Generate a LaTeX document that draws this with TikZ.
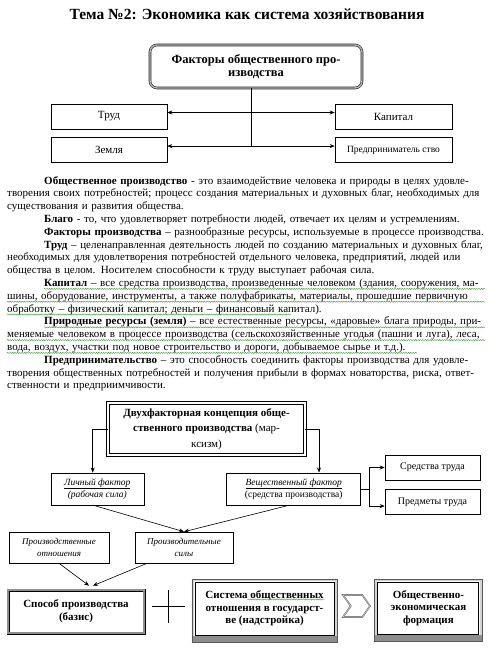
\documentclass[tikz,border=0pt]{standalone}
\usepackage{fontspec}
\setmainfont{Liberation Serif}
\usepackage{xcolor}
\usepackage{tikz}
\usetikzlibrary{arrows.meta,positioning,calc,shapes.symbols,decorations.pathmorphing}
\newcommand{\ftitle}{\bfseries\fontsize{15.5}{17}\selectfont}
\newcommand{\fhead}{\bfseries\fontsize{12.5}{13.5}\selectfont}
\newcommand{\fbody}{\fontsize{11}{12.8}\selectfont}
\newcommand{\fmid}{\fontsize{10}{12}\selectfont}
\newcommand{\fsmall}{\fontsize{9.5}{12.3}\selectfont}
\newcommand{\ftiny}{\fontsize{9}{12.3}\selectfont}
\newcommand{\fbold}{\bfseries\fontsize{11}{12.7}\selectfont}
\newlength{\txind}
\setlength{\txind}{37pt}
\newcommand{\txfirst}[1]{\noindent\hspace*{\txind}\makebox[\dimexpr\linewidth-\txind\relax][s]{#1}\par}
\newcommand{\txmid}[1]{\noindent\makebox[\linewidth][s]{#1}\par}
\newcommand{\txlast}[1]{\noindent#1\par}
\newcommand{\txone}[1]{\noindent\hspace*{\txind}#1\par}
\definecolor{band}{HTML}{8E8E8E}
\definecolor{wave}{HTML}{3C9A3C}
\tikzset{
  blk/.style={draw, line width=0.6pt, align=center, inner sep=1pt, font=#1},
  blk/.default=\fbody,
  hdr/.style={draw=black!85, double=black!30, double distance=1.4pt, line width=0.6pt, rounded corners=7pt, align=center, font=\fhead},
  twin/.style={draw, double, double distance=1.6pt, line width=0.8pt, align=center, inner sep=1pt, font=\fontsize{11}{15.5}\selectfont},
  gbox/.style={draw, double=band, double distance=1.8pt, line width=0.6pt, align=center, inner sep=1pt, font=\fbold},
  sbox/.style={draw, fill=white, line width=1pt, align=center, inner sep=1pt, font=\fbold},
  ln/.style={line width=0.6pt},
  arr/.style={-{Stealth[length=5pt,width=4pt]}, line width=0.6pt},
  arrs/.style={{Stealth[length=5pt,width=4pt]}-{Stealth[length=5pt,width=4pt]}, line width=0.6pt},
  wavy/.style={draw=wave, line width=0.4pt, decorate, decoration={snake, amplitude=0.6pt, segment length=2.4pt}},
}

\begin{document}
\begin{tikzpicture}[x=1pt, y=-1pt]
  \path[use as bounding box, fill=white] (0,0) rectangle (491,651);
  \node[font=\ftitle] (ttl) at (247,14) {Тема №2: Экономика как система хозяйствования};

  \node[hdr, minimum width=212pt, minimum height=43pt] (fac) at (256,66.5) {Факторы общественного про-\\изводства};
  \node[blk, minimum width=116pt, minimum height=25pt] (trud) at (109,116.5) {Труд};
  \node[blk, minimum width=116pt, minimum height=25pt, below=8pt of trud] (zem) {Земля};
  \node[blk, minimum width=117pt, minimum height=25pt] (kap) at (393.5,116.5) {Капитал};
  \node[blk=\fsmall, minimum width=117pt, minimum height=25pt, below=8pt of kap] (pred) {Предприниматель ство};
  \coordinate (fj) at ($(fac.south)+(-5,0)$);
  \draw[ln] (fj) -- ($(fj |- zem.east)+(0,-4)$);
  \draw[arrs] ($(trud.east)+(0,-4)$) -- ($(kap.west)+(0,-4)$);
  \draw[arrs] ($(zem.east)+(0,-4)$) -- ($(pred.west)+(0,-4)$);

  \node[anchor=north west, text width=478pt, inner sep=0pt, font=\fbody] (body) at (7,176) {%
    \txfirst{\textbf{Общественное производство} - это взаимодействие человека и природы в целях удовле-}
    \txmid{творения своих потребностей; процесс создания материальных и духовных благ, необходимых для}
    \txlast{существования и развития общества.}
    \txone{\textbf{Благо} - то, что удовлетворяет потребности людей, отвечает их целям и устремлениям.}
    \txone{\textbf{Факторы производства} – разнообразные ресурсы, используемые в процессе производства.}
    \txfirst{\textbf{Труд} – целенаправленная деятельность людей по созданию материальных и духовных благ,}
    \txmid{необходимых для удовлетворения потребностей отдельного человека, предприятий, людей или}
    \txlast{общества в целом. Носителем способности к труду выступает рабочая сила.}
    \txfirst{\textbf{Капитал} – все средства производства, произведенные человеком (здания, сооружения, ма-}
    \txmid{шины, оборудование, инструменты, а также полуфабрикаты, материалы, прошедшие первичную}
    \txlast{обработку – физический капитал; деньги – финансовый капитал).}
    \txfirst{\textbf{Природные ресурсы (земля)} – все естественные ресурсы, «даровые» блага природы, при-}
    \txmid{меняемые человеком в процессе производства (сельскохозяйственные угодья (пашни и луга), леса,}
    \txlast{вода, воздух, участки под новое строительство и дороги, добываемое сырье и т.д.).}
    \txfirst{\textbf{Предпринимательство} – это способность соединить факторы производства для удовле-}
    \txmid{творения общественных потребностей и получения прибыли в формах новаторства, риска, ответ-}
    \txlast{ственности и предприимчивости.}};
  \foreach \row/\xs/\xe in {8/37/478, 9/0/478, 10/0/284, 11/37/478, 12/0/478, 13/0/410} {
    \pgfmathsetmacro{\yy}{10.5+\row*12.8}
    \coordinate (ws) at ($(body.north west)+(\xs,\yy)$);
    \coordinate (we) at ($(body.north west)+(\xe,\yy)$);
    \draw[wavy] (ws) -- (we);
  }

  \node[twin, minimum width=197pt, minimum height=52pt] (dvuh) at (206.5,429)
    {\textbf{Двухфакторная концепция обще-}\\\textbf{ственного производства} (мар-\\ксизм)};
  \node[blk=\fsmall\itshape, minimum width=93pt, minimum height=32pt] (lich) at (97.3,488.8)
    {\underline{Личный фактор}\\(рабочая сила)};
  \node[blk=\fsmall, minimum width=134pt, minimum height=32pt] (vesh) at (293.7,488.8)
    {\underline{\itshape Вещественный фактор}\\(средства производства)};
  \node[blk=\fmid, minimum width=95pt, minimum height=25pt] (sred) at (432.5,467.5) {Средства труда};
  \node[blk=\fmid, minimum width=95pt, minimum height=25pt, below=9pt of sred] (prdm) {Предметы труда};
  \node[blk=\ftiny\itshape, minimum width=100pt, minimum height=31pt] (otn) at (59,547.5) {Производственные\\отношения};
  \node[blk=\ftiny\itshape, minimum width=98pt, minimum height=31pt] (sil) at (184,547.5) {Производительные\\силы};

  \draw[arr] (dvuh.west) -| ($(lich.north)+(-4.6,0)$);
  \draw[arr] (dvuh.east) -| ($(vesh.north)+(25.3,0)$);
  \draw[ln] (vesh.east) -- ++(8,0) coordinate (vj);
  \draw[arr] (vj) |- (sred.west);
  \draw[arr] (vj) |- ($(prdm.west)+(0,4)$);
  \draw[arr] ($(lich.south)+(-4.6,0)$) -- (sil.north);
  \draw[arr] ($(vesh.south)+(-4,0)$) -- (sil.north);

  \node[gbox, minimum width=136pt, minimum height=43pt] (spos) at (76,611.5) {Способ производства\\(базис)};
  \node[sbox, minimum width=139pt, minimum height=53pt] (sys) at (264.5,608.5) {Система общественных\\отношения в государст-\\ве (надстройка)};
  \node[sbox, minimum width=101pt, minimum height=52pt] (form) at (428.4,608) {Общественно-\\экономическая\\формация};
  \foreach \bx in {sys,form} {
    \fill[band!40, even odd rule] ($(\bx.north west)+(-2.7,-2)$) rectangle ($(\bx.south east)+(2.7,7)$)
      ($(\bx.north west)+(-0.5,-0.5)$) rectangle ($(\bx.south east)+(0.5,0.5)$);
    \fill[band] ($(\bx.south west)+(-2.7,0.5)$) rectangle ($(\bx.south east)+(2.7,7)$);
    \draw[black!65, line width=0.5pt] ($(\bx.north west)+(-2.7,-2)$) rectangle ($(\bx.south east)+(2.7,7)$);
  }
  \coordinate (ws) at ($(sys.center)+(-17,-9)$);
  \coordinate (we) at ($(sys.center)+(60,-9)$);
  \draw[wavy] (ws) -- (we);
  \node[signal, signal to=east, signal from=west, signal pointer angle=110, draw=black!60, double=black!20, double distance=0.6pt, line width=0.5pt, minimum width=27pt, minimum height=22pt, inner sep=0pt] (chev) at (356.5,606) {};

  \draw[arr] (otn.south) -- ($(spos.north)+(13,-4)$);
  \draw[arr] ($(sil.south)+(-37,0)$) -- ($(spos.north)+(17,-4)$);
  \coordinate (pls) at (168,606);
  \draw[ln] ($(pls)+(-16,0)$) -- ($(pls)+(17,0)$);
  \draw[ln] ($(pls)+(0,-16)$) -- ($(pls)+(0,17)$);
\end{tikzpicture}
\end{document}
